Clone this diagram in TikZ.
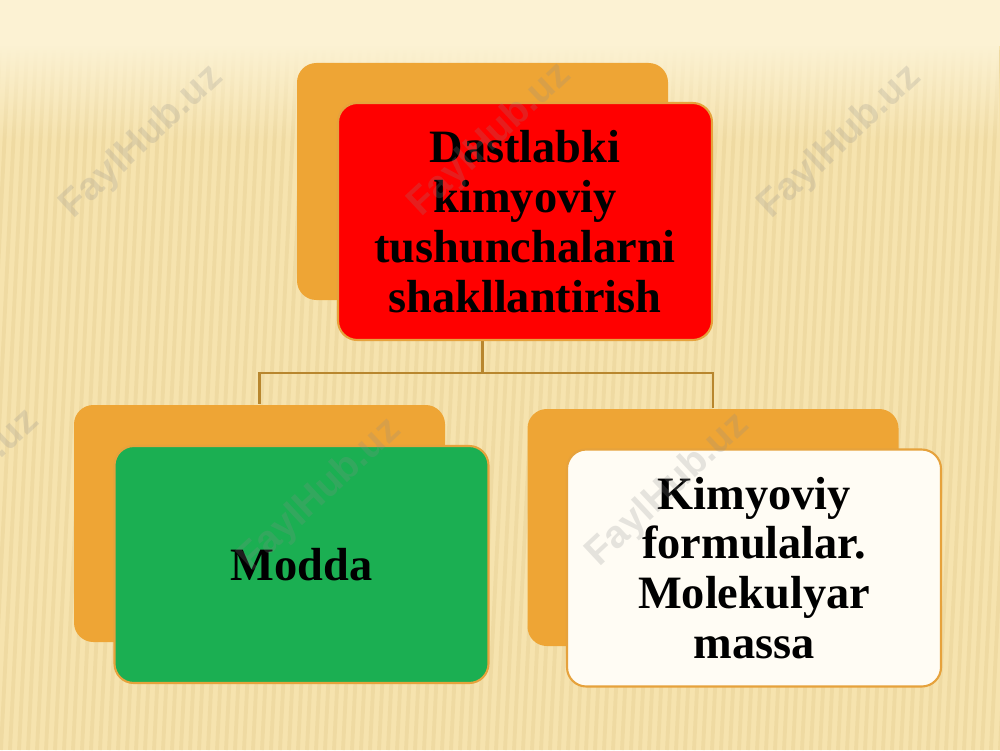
\documentclass[tikz,border=0pt]{standalone}
\usepackage{fontspec}
\setmainfont{Liberation Serif}
\setsansfont{Liberation Sans}
\usepackage{tikz}
\usetikzlibrary{fadings}
\usepackage{color}

\definecolor{bgcream}{HTML}{FCF2D3}
\definecolor{bgwheat}{HTML}{F6E3AE}
\definecolor{stripecol}{HTML}{E6CE92}
\definecolor{backorange}{HTML}{EEA535}
\definecolor{edgeline}{HTML}{E6A23C}
\definecolor{linkbrown}{HTML}{B8862E}
\definecolor{boxgreen}{HTML}{1BAF52}
\definecolor{boxwhite}{HTML}{FFFCF4}

\tikzset{
  backbox/.style={rounded corners=5.5pt,fill=backorange,minimum width=3.71cm,minimum height=2.37cm,inner sep=0pt},
  frontbox/.style={rounded corners=5.5pt,draw=edgeline,line width=0.6pt,minimum width=3.74cm,minimum height=2.37cm,inner sep=0pt,align=center,font=\fontsize{13.2}{14.2}\selectfont\bfseries},
  link/.style={draw=linkbrown,line width=0.8pt},
  stripe/.style={draw=stripecol,line width=1.1pt,opacity=0.4},
  wmark/.style={font=\sffamily\bfseries\fontsize{11}{11}\selectfont,text=black!45,opacity=0.22,rotate=43}
}

\begin{document}
\begin{tikzpicture}
        \clip (0,0) rectangle (10,7.5);
        % background
        \fill[bgwheat] (0,0) rectangle (10,7.5);
        \foreach \x in {0,0.09,...,10.6}
            \draw[stripe] (\x-0.35,0) -- (\x,7.0);
        \fill[bgcream,path fading=south] (0,6.1) rectangle (10,7.05);
        \fill[bgcream] (0,7.04) rectangle (10,7.5);

        \coordinate (b1) at (4.825,5.685);
        \coordinate (f1) at (5.25,5.285);
        \coordinate (b2) at (2.595,2.265);
        \coordinate (f2) at (3.015,1.855);
        \coordinate (b3) at (7.13,2.225);
        \coordinate (f3) at (7.54,1.82);
        \coordinate (hub) at (4.825,3.77);

        \node[backbox] (TopBack) at (b1){};
        \node[backbox] (LeftBack) at (b2){};
        \node[backbox] (RightBack) at (b3){};

        \draw[link] (TopBack.south) -- (hub) -| (LeftBack.north);
        \draw[link] (hub) -| (RightBack.north);

        \node[frontbox,fill=red] (TopNode) at (f1){Dastlabki\\kimyoviy\\tushunchalarni\\shakllantirish};
        \node[frontbox,fill=boxgreen] (LeftNode) at (f2){Modda};
        \node[frontbox,fill=boxwhite] (RightNode) at (f3){Kimyoviy\\formulalar.\\Molekulyar\\massa};

        % watermark
        \node[wmark] (wm1) at (1.42,6.08){FaylHub.uz};
        \node[wmark] (wm2) at (4.9,6.1){FaylHub.uz};
        \node[wmark] (wm3) at (8.4,6.08){FaylHub.uz};
        \node[wmark] (wm4) at (-0.42,2.64){FaylHub.uz};
        \node[wmark] (wm5) at (3.2,2.55){FaylHub.uz};
        \node[wmark] (wm6) at (6.68,2.6){FaylHub.uz};
    \end{tikzpicture}
\end{document}
